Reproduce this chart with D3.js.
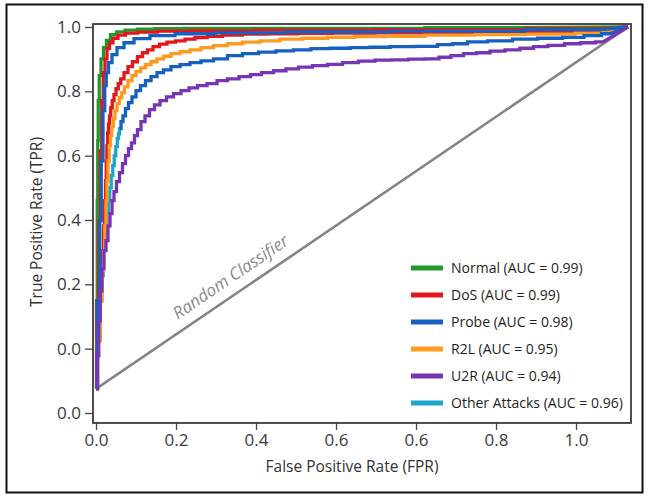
<!DOCTYPE html>
<html>
<head>
<meta charset="utf-8">
<script src="https://cdn.jsdelivr.net/npm/d3@7"></script>
<style>
  html, body { margin: 0; padding: 0; background: #fff; }
  svg { display: block; font-family: "Open Sans", "Noto Sans", sans-serif; }
</style>
</head>
<body>
<svg id="chart" width="649" height="500"></svg>
<script>
// ROC curves per traffic class: [FPR, TPR] pairs along each curve
const normalPts = [[0,-0.124],[0.0025,0.149],[0.00375,0.46],[0.005,0.647],[0.00625,0.771],[0.01,0.849],[0.015,0.901],[0.0225,0.936],[0.03,0.958],[0.0425,0.976],[0.06,0.985],[0.085,0.99],[0.1225,0.993],[0.1725,0.995],[0.26,0.996],[0.635,0.996],[1.01,0.998],[1.33,1.0]];
const dosPts = [[0,-0.124],[0.005,0.149],[0.00875,0.398],[0.0125,0.615],[0.01625,0.771],[0.02,0.858],[0.025,0.901],[0.03,0.933],[0.0375,0.951],[0.0475,0.965],[0.0625,0.975],[0.085,0.981],[0.1225,0.984],[0.185,0.987],[0.285,0.989],[0.51,0.99],[0.885,0.992],[1.26,0.995],[1.33,1.0]];
const dosInnerPts = [[0,-0.124],[0.0075,0.025],[0.01,0.149],[0.01375,0.227],[0.0175,0.305],[0.02,0.382],[0.0225,0.46],[0.025,0.522],[0.02625,0.584],[0.02825,0.631],[0.03,0.671],[0.0325,0.699],[0.035,0.724],[0.03875,0.749],[0.0425,0.771],[0.0475,0.79],[0.0525,0.808],[0.05875,0.824],[0.065,0.839],[0.075,0.858],[0.085,0.877],[0.0975,0.892],[0.11,0.908],[0.1225,0.92],[0.135,0.929],[0.15,0.939],[0.1675,0.947],[0.1875,0.953],[0.21,0.957],[0.235,0.962],[0.26,0.967],[0.2975,0.971],[0.335,0.975],[0.3975,0.978],[0.46,0.979],[0.5475,0.98],[0.635,0.981],[0.76,0.982],[0.885,0.982],[1.0725,0.984],[1.26,0.985],[1.33,1.0]];
const probePts = [[0,-0.124],[0.0075,0.149],[0.01125,0.398],[0.015,0.584],[0.02,0.74],[0.02375,0.818],[0.0275,0.858],[0.035,0.889],[0.045,0.914],[0.06,0.936],[0.08,0.951],[0.11,0.964],[0.16,0.973],[0.235,0.979],[0.36,0.982],[0.585,0.985],[0.885,0.987],[1.26,0.992],[1.33,1.0]];
const r2lPts = [[0,-0.124],[0.0075,0.025],[0.0125,0.149],[0.0175,0.242],[0.02,0.305],[0.02375,0.382],[0.02625,0.46],[0.02875,0.522],[0.03125,0.584],[0.035,0.631],[0.0375,0.662],[0.04125,0.69],[0.045,0.715],[0.05,0.74],[0.055,0.762],[0.06125,0.78],[0.0675,0.796],[0.075,0.814],[0.085,0.833],[0.095,0.849],[0.105,0.861],[0.1175,0.873],[0.13,0.883],[0.145,0.892],[0.16,0.901],[0.1775,0.909],[0.1975,0.917],[0.2225,0.923],[0.2475,0.929],[0.2775,0.936],[0.31,0.942],[0.3475,0.948],[0.385,0.953],[0.435,0.957],[0.485,0.962],[0.5475,0.965],[0.61,0.968],[0.685,0.97],[0.76,0.971],[0.885,0.975],[1.01,0.976],[1.135,0.978],[1.26,0.981],[1.33,1.0]];
const otherPts = [[0,-0.124],[0.0075,0.025],[0.0125,0.149],[0.01625,0.227],[0.02,0.305],[0.0225,0.345],[0.025,0.382],[0.02875,0.423],[0.0325,0.46],[0.03625,0.5],[0.04,0.538],[0.04375,0.569],[0.0475,0.6],[0.05125,0.628],[0.055,0.653],[0.0575,0.668],[0.06,0.684]];
const otherUpperPts = [[0.06,0.684],[0.065,0.706],[0.07,0.724],[0.0775,0.746],[0.085,0.765],[0.095,0.783],[0.105,0.802],[0.1175,0.818],[0.13,0.833],[0.145,0.846],[0.16,0.858],[0.1775,0.867],[0.1975,0.877],[0.2225,0.883],[0.2475,0.889],[0.2775,0.895],[0.31,0.901],[0.3475,0.911],[0.385,0.917],[0.4275,0.922],[0.4725,0.926],[0.515,0.929],[0.56,0.933],[0.61,0.934],[0.66,0.936],[0.71,0.937],[0.76,0.939],[0.835,0.94],[0.8725,0.945],[0.91,0.948],[0.9475,0.954],[1.01,0.957],[1.0725,0.962],[1.135,0.965],[1.1975,0.968],[1.2425,0.973],[1.285,0.979],[1.33,1.0]];
const u2rPts = [[0,-0.124],[0.005,-0.022],[0.00875,0.087],[0.0125,0.18],[0.0175,0.249],[0.0225,0.305],[0.0275,0.336],[0.0325,0.382],[0.0375,0.42],[0.0425,0.46],[0.0475,0.488],[0.055,0.519],[0.0625,0.547],[0.07,0.575],[0.0775,0.6],[0.085,0.622],[0.0925,0.64],[0.1,0.662],[0.1075,0.681],[0.1175,0.706],[0.1275,0.724],[0.14,0.743],[0.1525,0.758],[0.1675,0.771],[0.185,0.783],[0.2025,0.793],[0.2225,0.802],[0.2425,0.811],[0.265,0.818],[0.29,0.824],[0.315,0.833],[0.3425,0.839],[0.3725,0.846],[0.4,0.852],[0.4275,0.858],[0.46,0.864],[0.49,0.87],[0.5225,0.875],[0.56,0.88],[0.5975,0.884],[0.635,0.889],[0.6775,0.894],[0.7175,0.897],[0.76,0.898],[0.8025,0.9],[0.8425,0.901],[0.8725,0.906],[0.9025,0.911],[0.935,0.917],[0.9675,0.92],[1.0025,0.925],[1.0425,0.929],[1.0775,0.934],[1.11,0.939],[1.15,0.943],[1.1925,0.948],[1.23,0.951],[1.2675,0.954],[1.33,1.0]];

// Random-classifier reference line
const diagonalPts = [[0,-0.125],[1.33,1.0]];

// Legend entries
const legendLabels = ["Normal (AUC = 0.99)","DoS (AUC = 0.99)","Probe (AUC = 0.98)","R2L (AUC = 0.95)","U2R (AUC = 0.94)","Other Attacks (AUC = 0.96)"];
const legendColors = ["#1f9a2a","#e3161c","#1560c0","#ff9a1f","#7634b6","#1ba7cc"];

// Axis ticks and their printed labels
const xTickValues = [0,0.2,0.4,0.6,0.8,1.0,1.2];
const xTickLabels = ["0.0","0.2","0.4","0.6","0.6","0.8","1.0"];
const yTickValues = [-0.2,0,0.2,0.4,0.6,0.8,1.0];
const yTickLabels = ["0.0","0.0","0.2","0.4","0.6","0.8","1.0"];

const svg = d3.select("#chart");

const x = d3.scaleLinear().domain([0, 1.2]).range([96, 576]);
const y = d3.scaleLinear().domain([-0.2, 1.0]).range([413, 27]);

// plot extents in data units
const xMin = -0.0075, xMax = 1.3375, yMin = -0.231, yMax = 1.0093;

// outer figure border
svg.append("rect")
  .attr("x", 6.5).attr("y", 4.5).attr("width", 636).attr("height", 488)
  .attr("fill", "none").attr("stroke", "#111").attr("stroke-width", 2);

// axes
const xAxis = d3.axisBottom(x).tickValues(xTickValues)
  .tickFormat((d, i) => xTickLabels[i]).tickSize(7).tickPadding(4);
const yAxis = d3.axisLeft(y).tickValues(yTickValues)
  .tickFormat((d, i) => yTickLabels[i]).tickSize(8).tickPadding(4);

const gx = svg.append("g").attr("transform", `translate(0,${y(yMin)})`).call(xAxis);
const gy = svg.append("g").attr("transform", `translate(${x(xMin)},0)`).call(yAxis);
[gx, gy].forEach(g => {
  g.select(".domain").remove();
  g.selectAll(".tick line").attr("stroke", "#444").attr("stroke-width", 1.3);
  g.selectAll(".tick text").attr("fill", "#3a3a3a").style("font-size", "17px")
    .style("font-family", "'Open Sans', sans-serif");
});

// diagonal
const lineLin = d3.line().x(d => x(d[0])).y(d => y(d[1]));
svg.append("path").attr("d", lineLin(diagonalPts))
  .attr("fill", "none").attr("stroke", "#858585").attr("stroke-width", 2.6);

// label along the diagonal
const ang = Math.atan2(y(diagonalPts[1][1]) - y(diagonalPts[0][1]), x(diagonalPts[1][0]) - x(diagonalPts[0][0])) * 180 / Math.PI;
const lblX = 0.36;
const lblY = diagonalPts[0][1] + (diagonalPts[1][1] - diagonalPts[0][1]) * (lblX - diagonalPts[0][0]) / (diagonalPts[1][0] - diagonalPts[0][0]);
svg.append("text")
  .attr("transform", `translate(${x(lblX)},${y(lblY)}) rotate(${ang})`)
  .attr("dy", -11)
  .attr("text-anchor", "middle")
  .attr("fill", "#8a8a8a")
  .style("font-size", "17px").style("font-style", "italic")
  .text("Random Classifier");

// stepped ROC path, converging straight into the final corner
const stepLine = d3.line().x(d => x(d[0])).y(d => y(d[1])).curve(d3.curveStep);
function rocPath(pts) {
  const last = pts[pts.length - 1];
  return stepLine(pts.slice(0, -1)) + `L${x(last[0])},${y(last[1])}`;
}

const curves = [
  { pts: otherPts, color: legendColors[5], open: true },
  { pts: normalPts, color: legendColors[0] },
  { pts: dosPts, color: legendColors[1] },
  { pts: dosInnerPts, color: legendColors[1] },
  { pts: r2lPts, color: legendColors[3] },
  { pts: otherUpperPts, color: legendColors[2] },
  { pts: probePts, color: legendColors[2] },
  { pts: u2rPts, color: legendColors[4] }
];

const gCurves = svg.append("g");
curves.forEach(c => {
  gCurves.append("path")
    .attr("d", c.open ? stepLine(c.pts) : rocPath(c.pts))
    .attr("fill", "none")
    .attr("stroke", c.color)
    .attr("stroke-width", 3.3)
    .attr("stroke-linejoin", "miter");
});

// plot frame
svg.append("rect")
  .attr("x", x(xMin)).attr("y", y(yMax))
  .attr("width", x(xMax) - x(xMin)).attr("height", y(yMin) - y(yMax))
  .attr("fill", "none").attr("stroke", "#3c3c3c").attr("stroke-width", 1.8);

// axis titles
svg.append("text")
  .attr("x", 352).attr("y", 472)
  .attr("text-anchor", "middle").attr("fill", "#333")
  .style("font-size", "15.5px")
  .text("False Positive Rate (FPR)");
svg.append("text")
  .attr("transform", "translate(42,222) rotate(-90)")
  .attr("text-anchor", "middle").attr("fill", "#333")
  .style("font-size", "15.5px")
  .text("True Positive Rate (TPR)");

// legend
const legend = svg.append("g").attr("transform", "translate(411,268)");
legendLabels.forEach((lab, i) => {
  const row = legend.append("g").attr("transform", `translate(0,${i * 27})`);
  row.append("rect").attr("x", 0).attr("y", -2.5).attr("width", 32).attr("height", 5)
    .attr("fill", legendColors[i]);
  row.append("text").attr("x", 40).attr("y", 0).attr("dy", "0.35em")
    .attr("fill", "#1e1e1e").style("font-size", "14px").text(lab);
});
</script>
</body>
</html>
